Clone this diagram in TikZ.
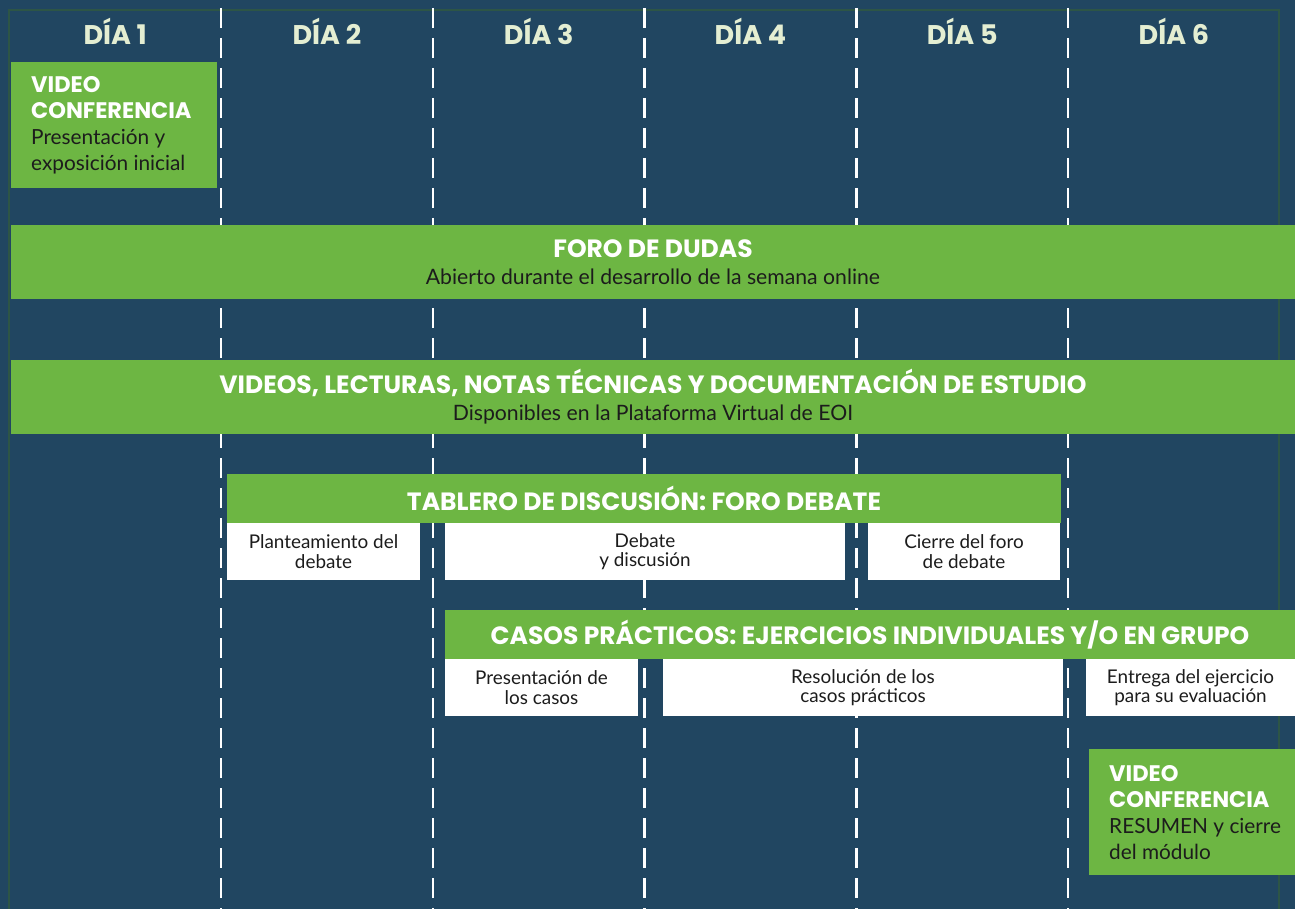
\documentclass[tikz,border=0pt]{standalone}
\usepackage{fontspec}
\setmainfont{Lato}
\newfontfamily\headfont{Poppins}
\usetikzlibrary{positioning}

\definecolor{boardBlue}{HTML}{214661}
\definecolor{barGreen}{HTML}{6DB643}
\definecolor{dayCream}{HTML}{E4EED2}
\definecolor{frameGreen}{HTML}{2D5546}
\definecolor{inkDark}{HTML}{1C1C1C}

\newcommand{\headtxt}[1]{{\headfont\bfseries\fontsize{25}{27}\selectfont\color{white}#1}}
\newcommand{\conftitle}[1]{{\headfont\bfseries\fontsize{22.5}{26}\selectfont\color{white}#1}}

\begin{document}
\begin{tikzpicture}[
  x=1pt, y=-1pt,
  dayhead/.style={font=\headfont\bfseries\fontsize{27}{27}\selectfont, text=dayCream, anchor=base, inner sep=0pt},
  daysep/.style={white, line width=2.6pt, dash pattern=on 20pt off 10pt},
  frameline/.style={frameGreen, line width=2pt},
  greenbar/.style={fill=barGreen, inner sep=0pt, align=center, font=\fontsize{21.2}{27}\selectfont, text=inkDark},
  whitebox/.style={fill=white, inner sep=0pt, align=center, minimum height=57pt, font=\fontsize{18.9}{19.5}\selectfont, text=inkDark},
  confbox/.style={fill=barGreen, inner sep=0pt, minimum width=206pt, minimum height=126pt, anchor=north west},
  conftext/.style={inner sep=0pt, align=left, anchor=west, font=\fontsize{20.8}{26}\selectfont, text=inkDark}
]

% Board background and frame
\useasboundingbox (0,0) rectangle (1295,909);
\fill[boardBlue] (0,0) rectangle (1295,909);
\draw[frameline] (9,909) -- (9,10) -- (1279,10) -- (1279,909);

% Day separators (dashed)
\draw[daysep] (221,8) -- (221,909);
\draw[daysep] (432.8,8) -- (432.8,909);
\draw[daysep] (644.5,8) -- (644.5,909);
\draw[daysep] (856.3,8) -- (856.3,909);
\draw[daysep] (1068,8) -- (1068,909);

% Day headers
\node[dayhead] (D1) at (115.2,45) {DÍA 1};
\node[dayhead] (D2) at (326.9,45) {DÍA 2};
\node[dayhead] (D3) at (538.7,45) {DÍA 3};
\node[dayhead] (D4) at (750.4,45) {DÍA 4};
\node[dayhead] (D5) at (962.2,45) {DÍA 5};
\node[dayhead] (D6) at (1173.9,45) {DÍA 6};

% Opening video conference (day 1)
\node[confbox] (VC1) at (11,62) {};
\node[conftext, right=20pt of VC1.west] (VC1t)
  {\conftitle{VIDEO}\\ \conftitle{CONFERENCIA}\\ Presentación y\\ exposición inicial};

% Week-long bars
\node[greenbar, minimum width=1284pt, minimum height=74pt] (FORO) at (653,262)
  {\headtxt{FORO DE DUDAS}\\ Abierto durante el desarrollo de la semana online};
\node[greenbar, minimum width=1284pt, minimum height=74pt] (DOCS) at (653,397)
  {\headtxt{VIDEOS, LECTURAS, NOTAS TÉCNICAS Y DOCUMENTACIÓN DE ESTUDIO}\\ Disponibles en la Plataforma Virtual de EOI};

% Discussion board and its stages
\node[greenbar, minimum width=834pt, minimum height=49pt] (TAB) at (644,498.5)
  {\headtxt{TABLERO DE DISCUSIÓN: FORO DEBATE}};
\node[whitebox, minimum width=193pt] (TAB1) at (323.5,551.5) {Planteamiento del\\ debate};
\node[whitebox, minimum width=400pt] (TAB2) at (645,551.5) {Debate\\ y discusión};
\node[whitebox, minimum width=192pt] (TAB3) at (964,551.5) {Cierre del foro\\ de debate};

% Case studies and their stages
\node[greenbar, minimum width=850pt, minimum height=49pt] (CAS) at (870,634.5)
  {\headtxt{CASOS PRÁCTICOS: EJERCICIOS INDIVIDUALES Y/O EN GRUPO}};
\node[whitebox, minimum width=193pt] (CAS1) at (541.5,687.5) {Presentación de\\ los casos};
\node[whitebox, minimum width=400pt] (CAS2) at (863,687.5) {Resolución de los\\ casos prácticos};
\node[whitebox, minimum width=209pt] (CAS3) at (1190.5,687.5) {Entrega del ejercicio\\ para su evaluación};

% Closing video conference (day 6)
\node[confbox] (VC6) at (1089,749) {};
\node[conftext, right=20pt of VC6.west] (VC6t)
  {\conftitle{VIDEO}\\ \conftitle{CONFERENCIA}\\ RESUMEN y cierre\\ del módulo};

\end{tikzpicture}
\end{document}
